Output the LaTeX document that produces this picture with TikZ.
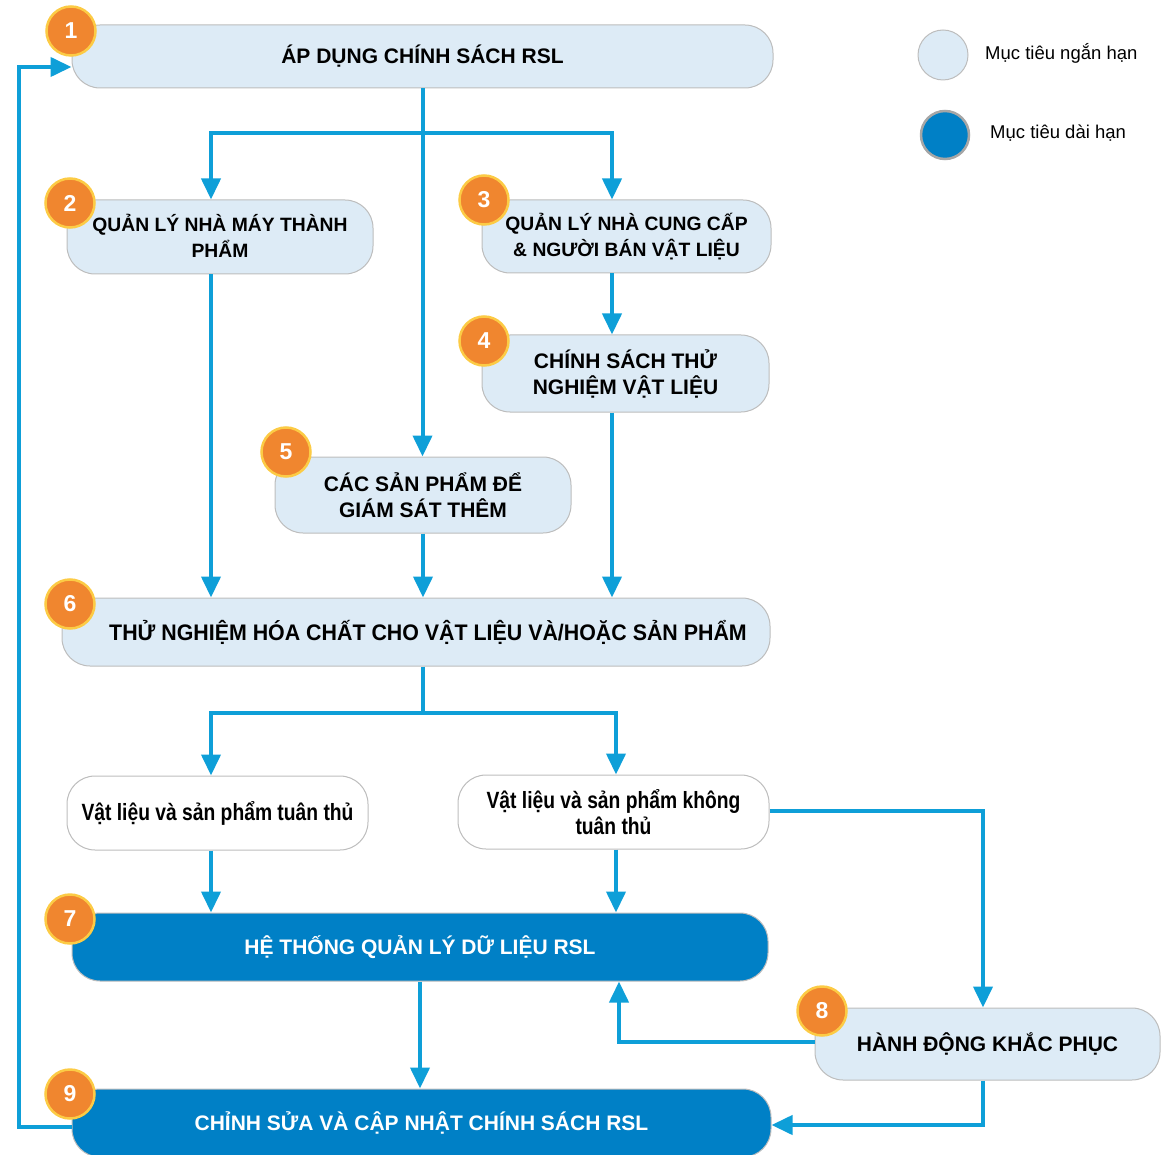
\documentclass[tikz,border=0pt]{standalone}
\usepackage{fontspec}
\setmainfont{Liberation Sans}
\newfontfamily\condfont[FakeStretch=0.82]{Liberation Sans}
\newfontfamily\semicondfont[FakeStretch=0.95]{Liberation Sans}
\usetikzlibrary{arrows.meta,calc}
\definecolor{lightbox}{HTML}{DDEBF6}
\definecolor{darkbox}{HTML}{0080C6}
\definecolor{arrowblue}{HTML}{0E9FD8}
\definecolor{orangec}{HTML}{F0862F}
\definecolor{yellowc}{HTML}{FCCB45}
\definecolor{graybd}{HTML}{BDBDBD}
\begin{document}
\begin{tikzpicture}[x=1pt,y=-1pt,
  box/.style={draw=graybd, line width=1pt, rounded corners=28pt, align=center, inner sep=0pt,
    font=\bfseries\fontsize{21}{26}\selectfont},
  light/.style={box, fill=lightbox},
  dark/.style={box, fill=darkbox, text=white},
  whitebox/.style={box, fill=white, font=\condfont\bfseries\fontsize{23.5}{26}\selectfont},
  small/.style={font=\bfseries\fontsize{19.3}{26}\selectfont},
  num/.style={circle, fill=orangec, draw=yellowc, line width=2.5pt, minimum size=49pt, inner sep=0pt,
    text=white, font=\bfseries\fontsize{23}{23}\selectfont},
  conn/.style={draw=arrowblue, line width=4pt},
  arr/.style={conn, -{Triangle[length=21pt,width=19pt]}},
  legtext/.style={anchor=west, inner sep=0pt, font=\fontsize{18.5}{20}\selectfont},
]
\useasboundingbox (0,0) rectangle (1167,1155);

% boxes
\node[light, minimum width=701pt, minimum height=63pt] (b1) at (422.5,56.5) {\raisebox{2pt}{ÁP DỤNG CHÍNH SÁCH RSL}};
\node[light, small, minimum width=306pt, minimum height=74pt] (b2) at (220,237) {\raisebox{3pt}{QUẢN LÝ NHÀ MÁY THÀNH}\\\raisebox{3pt}{PHẨM}};
\node[light, small, minimum width=289pt, minimum height=73pt] (b3) at (626.5,236.5) {QUẢN LÝ NHÀ CUNG CẤP\\\& NGƯỜI BÁN VẬT LIỆU};
\node[light, minimum width=287pt, minimum height=77pt] (b4) at (625.5,373.5) {CHÍNH SÁCH THỬ\\NGHIỆM VẬT LIỆU};
\node[light, minimum width=296pt, minimum height=76pt] (b5) at (423,495) {CÁC SẢN PHẨM ĐỂ\\GIÁM SÁT THÊM};
\node[light, minimum width=708pt, minimum height=68pt, font=\semicondfont\bfseries\fontsize{22.5}{26}\selectfont] (b6) at (416,632) {\hspace*{24pt}\raisebox{3pt}{THỬ NGHIỆM HÓA CHẤT CHO VẬT LIỆU VÀ/HOẶC SẢN PHẨM}};
\node[whitebox, minimum width=301pt, minimum height=74pt] (w1) at (217.5,813) {Vật liệu và sản phẩm tuân thủ};
\node[whitebox, minimum width=311pt, minimum height=74pt] (w2) at (613.5,812) {Vật liệu và sản phẩm không\\tuân thủ};
\node[dark, minimum width=696pt, minimum height=68pt] (b7) at (420,947) {\raisebox{3pt}{HỆ THỐNG QUẢN LÝ DỮ LIỆU RSL}};
\node[light, minimum width=345pt, minimum height=72pt] (b8) at (987.5,1044) {\raisebox{3pt}{HÀNH ĐỘNG KHẮC PHỤC}};
\node[dark, minimum width=699pt, minimum height=68pt] (b9) at (421.5,1123) {\raisebox{2pt}{CHỈNH SỬA VÀ CẬP NHẬT CHÍNH SÁCH RSL}};

% connectors
\coordinate (j1) at ($(b1.south)+(0,45)$);
\draw[arr] (b1.south) -- (b1.south |- b5.north);
\draw[arr] (j1) -| ([xshift=-9pt]b2.north);
\draw[arr] (j1) -| ([xshift=-14.5pt]b3.north);
\draw[arr] ([xshift=-14.5pt]b3.south) -- ([xshift=-14.5pt]b3.south |- b4.north);
\draw[arr] ([xshift=-9pt]b2.south) -- ([xshift=-9pt]b2.south |- b6.north);
\draw[arr] (b5.south) -- (b5.south |- b6.north);
\draw[arr] ([xshift=-13.5pt]b4.south) -- ([xshift=-13.5pt]b4.south |- b6.north);
\coordinate (j2) at ($(b6.south)+(7,46)$);
\draw[conn] ([xshift=7pt]b6.south) -- (j2);
\draw[arr] (j2) -| ([xshift=-6.5pt]w1.north);
\draw[arr] (j2) -| ([xshift=2.5pt]w2.north);
\draw[arr] ([xshift=-6.5pt]w1.south) -- ([xshift=-6.5pt]w1.south |- b7.north);
\draw[arr] ([xshift=2.5pt]w2.south) -- ([xshift=2.5pt]w2.south |- b7.north);
\draw[arr] ([yshift=1pt]w2.east) -| ([xshift=-4.5pt]b8.north);
\draw[arr] (b7.south) -- (b7.south |- b9.north);
\draw[arr] ([yshift=2pt]b8.west) -| ([xshift=199pt]b7.south);
\draw[arr] ([xshift=-4.5pt]b8.south) |- ([yshift=-2pt]b9.east);
\draw[arr] ([yshift=-4pt]b9.west) -- ++(-53,0) |- ([yshift=-10.5pt]b1.west);

% number badges
\node[num] (n1) at (71,31) {1};
\node[num] (n2) at (70,203) {2};
\node[num] (n3) at (484,200) {3};
\node[num] (n4) at (484,341) {4};
\node[num] (n5) at (286,452) {5};
\node[num] (n6) at (70,604) {6};
\node[num] (n7) at (70,919) {7};
\node[num] (n8) at (822,1011) {8};
\node[num] (n9) at (70,1094) {9};

% legend
\node[circle, fill=lightbox, draw=graybd, line width=1pt, minimum size=50pt, inner sep=0pt] (l1) at (943,55) {};
\node[legtext] (lt1) at (985,53) {Mục tiêu ngắn hạn};
\node[circle, fill=darkbox, draw=black!35, line width=2.5pt, minimum size=48pt, inner sep=0pt] (l2) at (945,135) {};
\node[legtext] (lt2) at (990,133) {Mục tiêu dài hạn};
\end{tikzpicture}
\end{document}
